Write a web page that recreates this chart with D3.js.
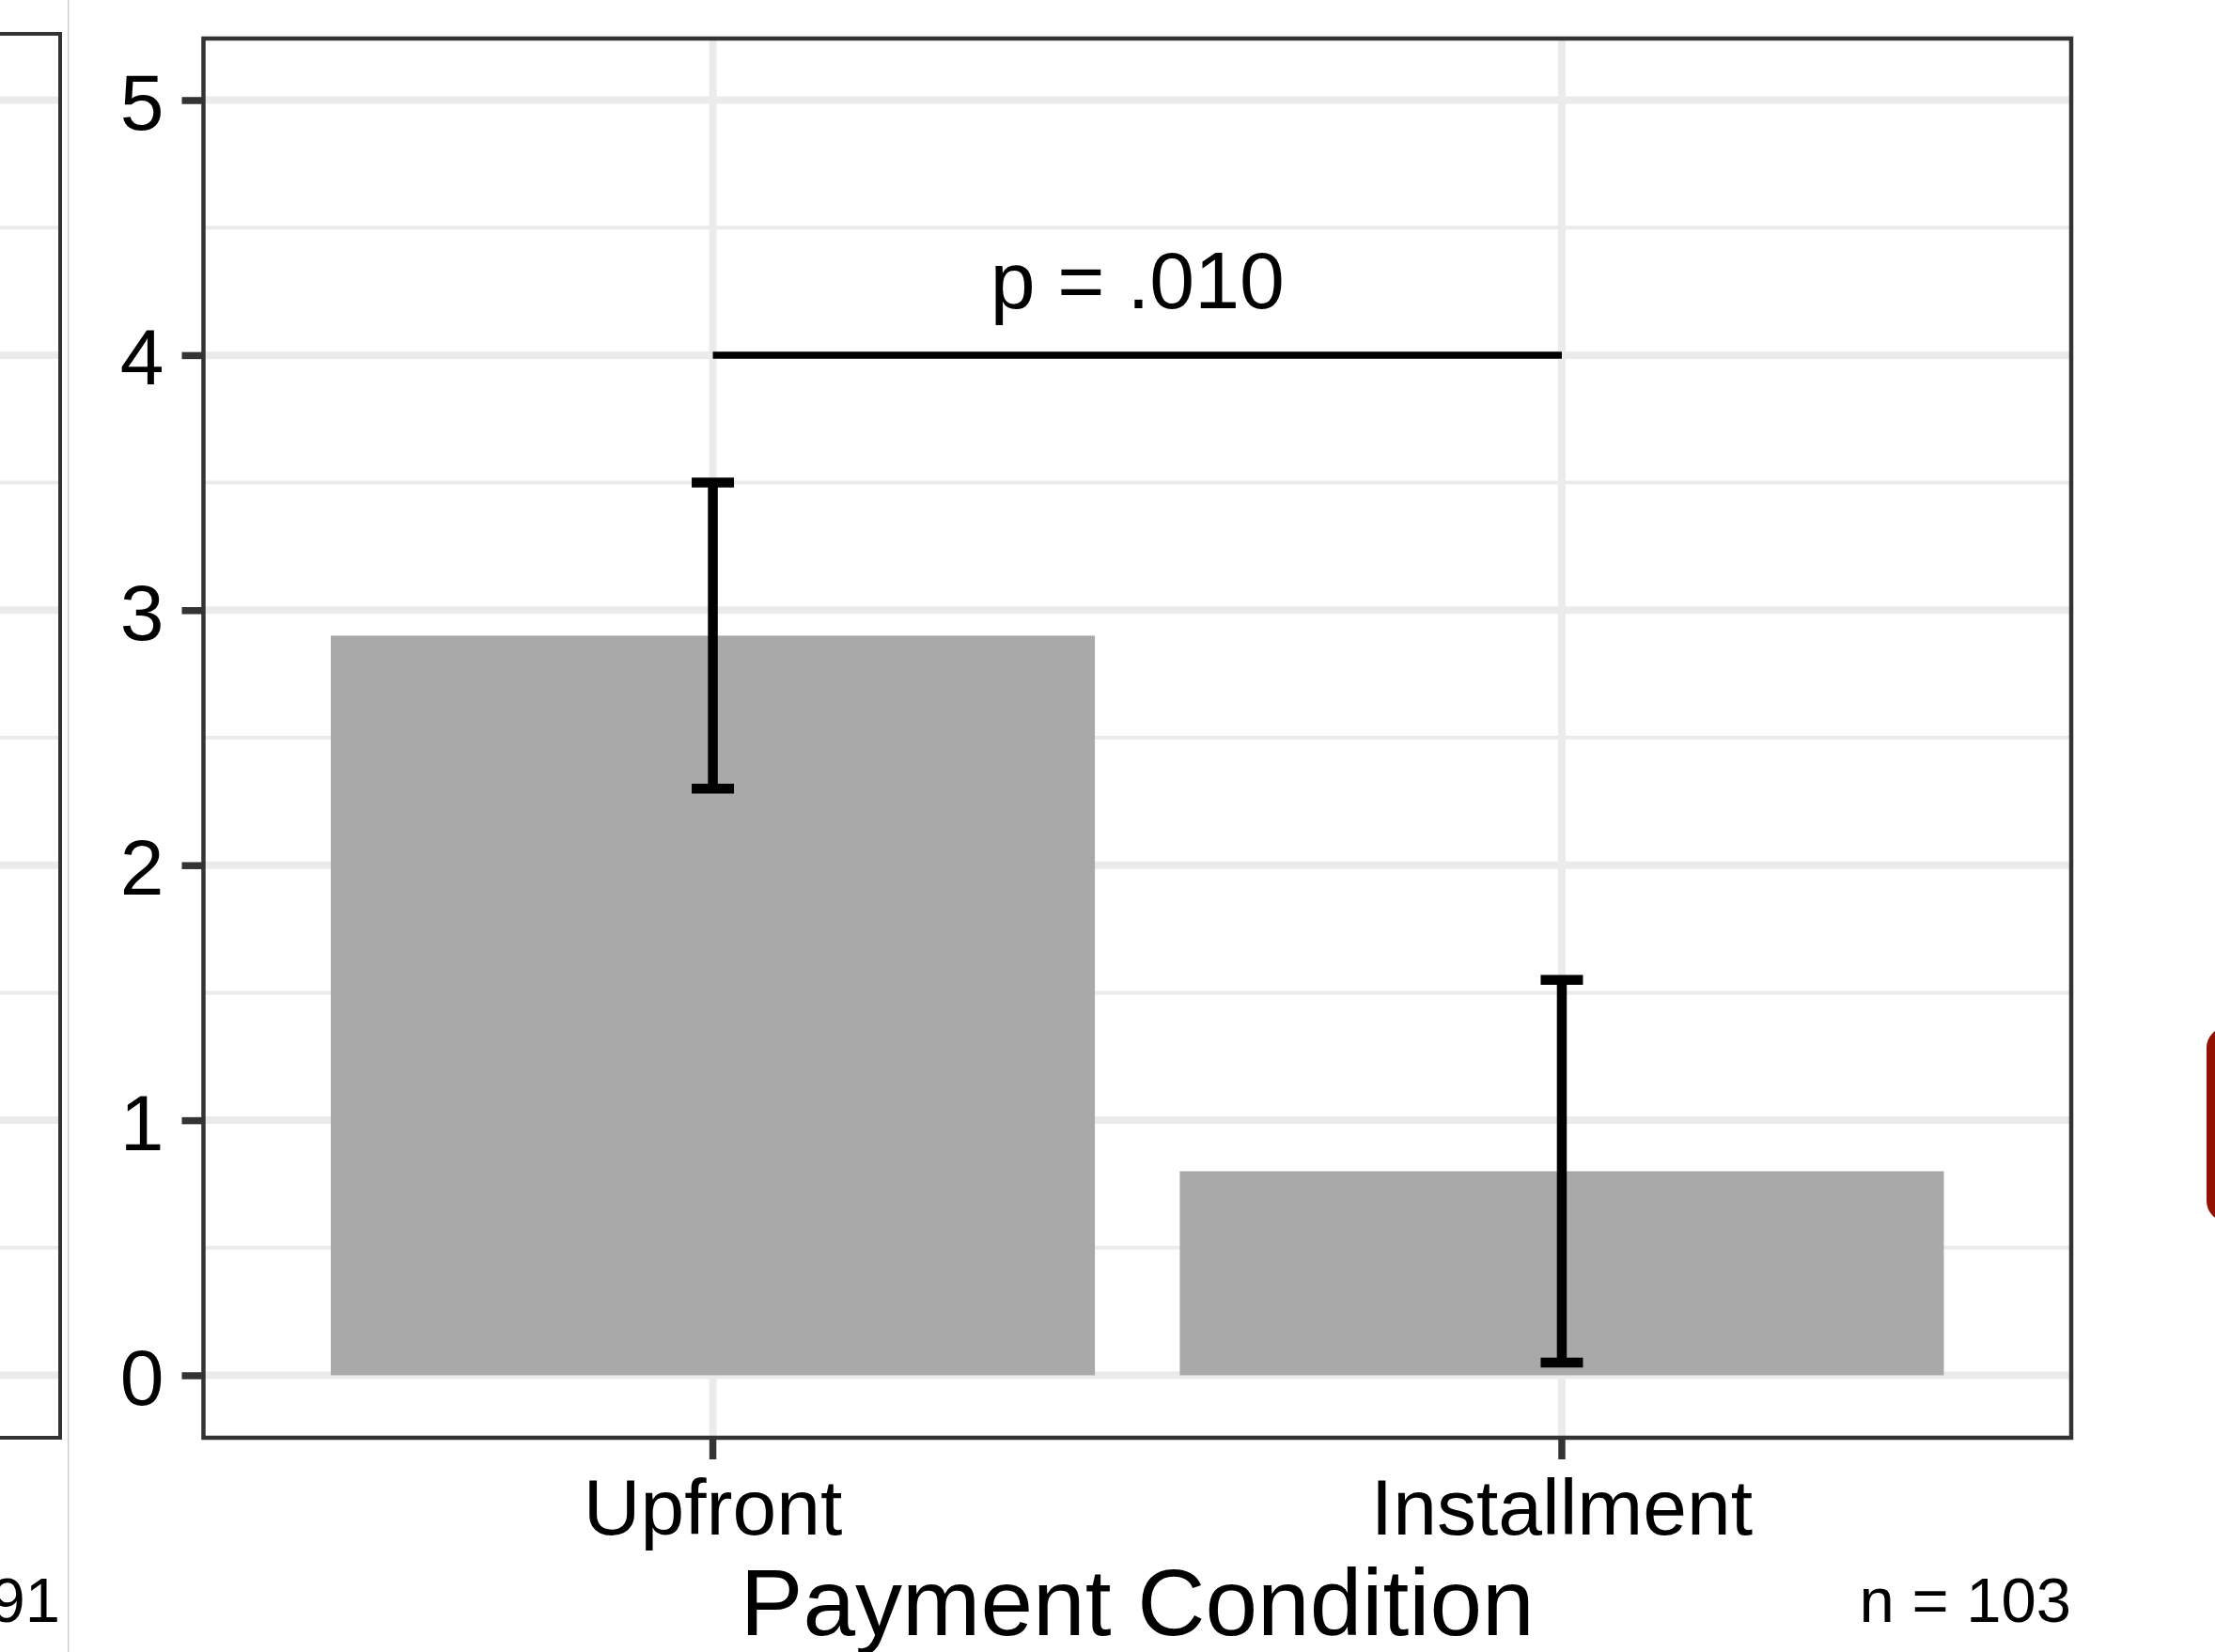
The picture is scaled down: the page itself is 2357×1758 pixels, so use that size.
<!DOCTYPE html>
<html>
<head>
<meta charset="utf-8">
<script src="https://cdn.jsdelivr.net/npm/d3@7"></script>
<style>
  html, body { margin: 0; padding: 0; background: #ffffff; }
  svg { display: block; }
  text { font-family: "Liberation Sans", Arial, Helvetica, sans-serif; fill: #000; }
</style>
</head>
<body>
<svg id="chart" width="2357" height="1758"></svg>
<script>
// Mean rating by payment condition, with interval bars
const categories = ["Upfront", "Installment"];
const means = [2.9, 0.8];
const ciLower = [2.3, 0.05];
const ciUpper = [3.5, 1.55];

const yTicks = [0, 1, 2, 3, 4, 5];
const yMinorTicks = [0.5, 1.5, 2.5, 3.5, 4.5];

const pLabel = "p = .010";
const pBracketValue = 4;
const xTitle = "Payment Condition";
const sampleLabel = "n = 103";
const neighbourSampleLabel = "n = 91";

const svg = d3.select("#chart");

// Panel geometry
const panel = { left: 216.5, right: 2204, top: 41, bottom: 1530 };
const neighbour = { left: -40, right: 64, top: 36, bottom: 1530 };

const GRID = "#EBEBEB";
const INK = "#333333";

const y = d3.scaleLinear().domain([0, 5]).range([1463.5, 106.5]);
const x = d3.scaleBand()
  .domain(categories)
  .range([panel.left, panel.right])
  .paddingInner(0.1)
  .paddingOuter(0.15);
const cx = d => x(d) + x.bandwidth() / 2;

// ---- neighbouring panel, cut off at the left edge ----
const nb = svg.append("g");
nb.selectAll("line.minor").data(yMinorTicks).join("line")
  .attr("x1", neighbour.left).attr("x2", neighbour.right)
  .attr("y1", d => y(d)).attr("y2", d => y(d))
  .attr("stroke", GRID).attr("stroke-width", 4);
nb.selectAll("line.major").data(yTicks).join("line")
  .attr("x1", neighbour.left).attr("x2", neighbour.right)
  .attr("y1", d => y(d)).attr("y2", d => y(d))
  .attr("stroke", GRID).attr("stroke-width", 8);
nb.append("rect")
  .attr("x", neighbour.left).attr("y", neighbour.top)
  .attr("width", neighbour.right - neighbour.left)
  .attr("height", neighbour.bottom - neighbour.top)
  .attr("fill", "none").attr("stroke", INK).attr("stroke-width", 4);
nb.append("text")
  .attr("x", neighbour.right).attr("y", 1726)
  .attr("text-anchor", "end")
  .attr("font-size", 67)
  .text(neighbourSampleLabel);

// divider between the two figures
svg.append("line")
  .attr("x1", 72.7).attr("x2", 72.7)
  .attr("y1", 0).attr("y2", 1758)
  .attr("stroke", "#c8c8c8").attr("stroke-width", 1.3);

// ---- main panel ----
const g = svg.append("g");

// grid
g.selectAll("line.ygridminor").data(yMinorTicks).join("line")
  .attr("class", "ygridminor")
  .attr("x1", panel.left).attr("x2", panel.right)
  .attr("y1", d => y(d)).attr("y2", d => y(d))
  .attr("stroke", GRID).attr("stroke-width", 4);
g.selectAll("line.ygrid").data(yTicks).join("line")
  .attr("class", "ygrid")
  .attr("x1", panel.left).attr("x2", panel.right)
  .attr("y1", d => y(d)).attr("y2", d => y(d))
  .attr("stroke", GRID).attr("stroke-width", 8);
g.selectAll("line.xgrid").data(categories).join("line")
  .attr("class", "xgrid")
  .attr("x1", d => cx(d)).attr("x2", d => cx(d))
  .attr("y1", panel.top).attr("y2", panel.bottom)
  .attr("stroke", GRID).attr("stroke-width", 8);

// bars
g.selectAll("rect.bar").data(categories).join("rect")
  .attr("class", "bar")
  .attr("x", d => x(d))
  .attr("width", x.bandwidth())
  .attr("y", (d, i) => y(means[i]))
  .attr("height", (d, i) => y(0) - y(means[i]))
  .attr("fill", "#A9A9A9");

// interval bars
const capHalf = 22.5;
const eb = g.selectAll("g.eb").data(categories).join("g").attr("class", "eb");
eb.append("line")
  .attr("x1", d => cx(d)).attr("x2", d => cx(d))
  .attr("y1", (d, i) => y(ciUpper[i])).attr("y2", (d, i) => y(ciLower[i]))
  .attr("stroke", "#000").attr("stroke-width", 10.5);
eb.append("line")
  .attr("x1", d => cx(d) - capHalf).attr("x2", d => cx(d) + capHalf)
  .attr("y1", (d, i) => y(ciUpper[i])).attr("y2", (d, i) => y(ciUpper[i]))
  .attr("stroke", "#000").attr("stroke-width", 10.5);
eb.append("line")
  .attr("x1", d => cx(d) - capHalf).attr("x2", d => cx(d) + capHalf)
  .attr("y1", (d, i) => y(ciLower[i])).attr("y2", (d, i) => y(ciLower[i]))
  .attr("stroke", "#000").attr("stroke-width", 10.5);

// significance bracket
g.append("line")
  .attr("x1", cx(categories[0])).attr("x2", cx(categories[1]))
  .attr("y1", y(pBracketValue)).attr("y2", y(pBracketValue))
  .attr("stroke", "#000").attr("stroke-width", 7.5);
g.append("text")
  .attr("x", (cx(categories[0]) + cx(categories[1])) / 2)
  .attr("y", y(pBracketValue) - 50)
  .attr("text-anchor", "middle")
  .attr("font-size", 86)
  .text(pLabel);

// panel border
g.append("rect")
  .attr("x", panel.left).attr("y", panel.top)
  .attr("width", panel.right - panel.left)
  .attr("height", panel.bottom - panel.top)
  .attr("fill", "none").attr("stroke", INK).attr("stroke-width", 4.5);

// y axis
const yAxis = svg.append("g")
  .attr("transform", `translate(${panel.left - 1},0)`)
  .call(d3.axisLeft(y).tickValues(yTicks).tickFormat(d3.format("d")).tickSize(22).tickPadding(19));
yAxis.select(".domain").remove();
yAxis.selectAll(".tick line").attr("stroke", INK).attr("stroke-width", 7.5);
yAxis.selectAll(".tick text")
  .attr("font-size", 84)
  .attr("font-family", "'Liberation Sans', Arial, sans-serif")
  .attr("fill", "#000")
  .attr("dy", "0.37em");

// x axis
const xAxis = svg.append("g")
  .attr("transform", `translate(0,${panel.bottom + 1})`)
  .call(d3.axisBottom(x).tickSize(22).tickPadding(20));
xAxis.select(".domain").remove();
xAxis.selectAll(".tick line").attr("stroke", INK).attr("stroke-width", 7.5);
xAxis.selectAll(".tick text")
  .attr("font-size", 84)
  .attr("font-family", "'Liberation Sans', Arial, sans-serif")
  .attr("fill", "#000");

// axis title and sample size
svg.append("text")
  .attr("x", (panel.left + panel.right) / 2)
  .attr("y", 1740)
  .attr("text-anchor", "middle")
  .attr("font-size", 100)
  .text(xTitle);
svg.append("text")
  .attr("x", panel.right)
  .attr("y", 1726)
  .attr("text-anchor", "end")
  .attr("font-size", 67)
  .text(sampleLabel);

// red marker at the right edge
svg.append("rect")
  .attr("x", 2348).attr("y", 1093)
  .attr("width", 60).attr("height", 207)
  .attr("rx", 22).attr("ry", 22)
  .attr("fill", "#921100");
</script>
</body>
</html>
